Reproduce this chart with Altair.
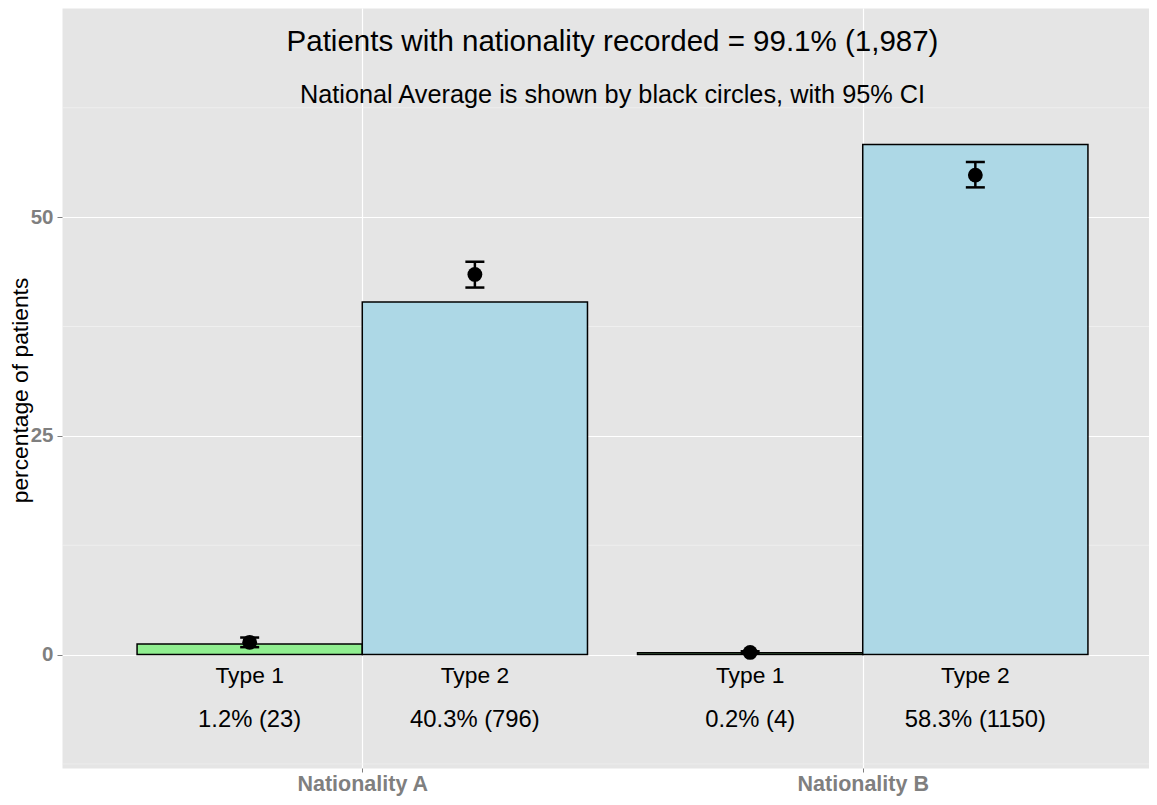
import altair as alt
import pandas as pd

# ---- data ----
nationalities = ["Nationality A", "Nationality B"]
types = ["Type 1", "Type 2"]
# order: (A, Type 1), (A, Type 2), (B, Type 1), (B, Type 2)
row_nat = ["Nationality A", "Nationality A", "Nationality B", "Nationality B"]
row_type = ["Type 1", "Type 2", "Type 1", "Type 2"]
pct = [1.2, 40.3, 0.2, 58.3]
counts = [23, 796, 4, 1150]
nat_avg = [1.4, 43.45, 0.25, 54.8]
ci_lo = [0.85, 41.95, 0.12, 53.4]
ci_hi = [1.95, 44.9, 0.38, 56.3]

title_text = "Patients with nationality recorded = 99.1% (1,987)"
subtitle_text = "National Average is shown by black circles, with 95% CI"
y_ticks = [0, 25, 50]
y_minor = [-12.5, 12.5, 37.5, 62.5]

FONT = "Liberation Sans"

df = pd.DataFrame({
    "nat": row_nat,
    "nat_pos": [nationalities.index(n) + 1 for n in row_nat],
    "type": row_type,
    "pct": pct,
    "n": counts,
    "avg": nat_avg,
    "lo": ci_lo,
    "hi": ci_hi,
})
df["label"] = [f"{p:.1f}% ({c})" for p, c in zip(pct, counts)]

label_expr = " : ".join(
    [f"datum.value == {i + 1} ? '{n}'" for i, n in enumerate(nationalities[:-1])]
    + [f"'{nationalities[-1]}'"]
)

xs = alt.Scale(domain=[0.4, 2.572], nice=False, zero=False)
ys = alt.Scale(domain=[-12.96, 73.9], nice=False, zero=False)

x_axis = alt.Axis(
    values=[1, 2], labelExpr=label_expr, title=None, domain=False,
    labelFont=FONT, labelFontSize=21.5, labelFontWeight="bold", labelColor="#7F7F7F",
    tickColor="#7F7F7F", tickSize=4, tickWidth=1, labelPadding=1,
    grid=True, gridColor="white", gridWidth=1.2,
)
y_axis = alt.Axis(
    values=y_ticks, title="percentage of patients", domain=False,
    labelFont=FONT, labelFontSize=20.5, labelFontWeight="bold", labelColor="#7F7F7F",
    tickColor="#7F7F7F", tickSize=5, tickWidth=1, labelPadding=4,
    grid=True, gridColor="white", gridWidth=1.2,
    titleFont=FONT, titleFontSize=22.8, titleFontWeight="normal", titleColor="black",
    titleX=-42, titleY=382, titleAngle=270, titleBaseline="middle", titleAlign="center",
)

base = alt.Chart(df).transform_calculate(
    x0="datum.nat_pos + (datum.type == 'Type 1' ? -0.45 : 0)",
).transform_calculate(
    x1="datum.x0 + 0.45",
    xc="datum.x0 + 0.225",
).transform_calculate(
    cl="datum.xc - 0.019",
    cr="datum.xc + 0.019",
)

minor = alt.Chart(pd.DataFrame({"y": y_minor})).mark_rule(
    color="#F2F2F2", strokeWidth=0.7
).encode(y=alt.Y("y:Q", scale=ys, axis=y_axis))

bars = base.mark_bar(stroke="black", strokeWidth=1.5).encode(
    x=alt.X("x0:Q", scale=xs, axis=x_axis),
    x2="x1:Q",
    y=alt.Y("pct:Q", scale=ys),
    y2=alt.datum(0),
    color=alt.Color("type:N", scale=alt.Scale(domain=types, range=["#90EE90", "#ADD8E6"]), legend=None),
)

err = base.mark_rule(color="black", strokeWidth=2.5).encode(
    x=alt.X("xc:Q", scale=xs), y=alt.Y("lo:Q", scale=ys), y2="hi:Q"
)
cap_lo = base.mark_rule(color="black", strokeWidth=2.5).encode(
    x=alt.X("cl:Q", scale=xs), x2="cr:Q", y=alt.Y("lo:Q", scale=ys)
)
cap_hi = base.mark_rule(color="black", strokeWidth=2.5).encode(
    x=alt.X("cl:Q", scale=xs), x2="cr:Q", y=alt.Y("hi:Q", scale=ys)
)
pts = base.mark_circle(size=220, color="black", opacity=1).encode(
    x=alt.X("xc:Q", scale=xs), y=alt.Y("avg:Q", scale=ys)
)

type_txt = base.mark_text(font=FONT, fontSize=22.8, color="black", baseline="middle").encode(
    x=alt.X("xc:Q", scale=xs), y=alt.datum(-2.5), text="type:N"
)
pct_txt = base.mark_text(font=FONT, fontSize=23.8, color="black", baseline="middle").encode(
    x=alt.X("xc:Q", scale=xs), y=alt.datum(-7.5), text="label:N"
)

titles = alt.Chart(pd.DataFrame({"t": [title_text]})).mark_text(
    font=FONT, fontSize=29.5, color="black", baseline="middle"
).encode(x=alt.datum(1.5), y=alt.datum(70), text="t:N")
subtitles = alt.Chart(pd.DataFrame({"t": [subtitle_text]})).mark_text(
    font=FONT, fontSize=25.3, color="black", baseline="middle"
).encode(x=alt.datum(1.5), y=alt.datum(64), text="t:N")

chart = alt.layer(
    minor, bars, err, cap_lo, cap_hi, pts, type_txt, pct_txt, titles, subtitles
).properties(
    width=1087, height=760,
    autosize=alt.AutoSizeParams(type="none"),
    padding={"left": 54, "top": 0, "right": 0, "bottom": 29},
    background="white",
).configure_view(
    fill="#E5E5E5", stroke="transparent"
)

chart.save("out.html", embed_options={"renderer": "svg", "actions": False})
